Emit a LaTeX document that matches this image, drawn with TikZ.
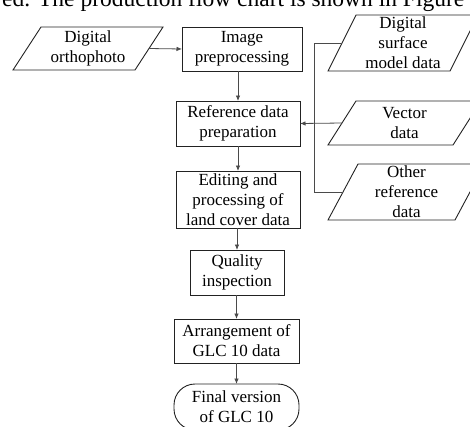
\documentclass[tikz,border=0pt]{standalone}
\usepackage{fontspec}
\setmainfont{Liberation Serif}
\usetikzlibrary{arrows.meta,calc}
\definecolor{boxc}{HTML}{222222}
\definecolor{linec}{HTML}{4A4A4A}
\newcommand\drawpara[2]{\draw[boxline] (#1.south west) -- ($(#1.north west)+(#2,0)$) -- (#1.north east) -- ($(#1.south east)+(-#2,0)$) -- cycle;}
\tikzset{
  txt/.style={inner sep=0pt, outer sep=0pt, align=center, font=\fontsize{17}{20}\selectfont},
  rbox/.style={txt, draw=boxc, line width=0.9pt},
  boxline/.style={draw=boxc, line width=0.9pt},
  plainline/.style={draw=linec, line width=0.8pt},
  conn/.style={plainline, -{Latex[length=5.5pt,width=4.5pt]}}
}
\begin{document}
\begin{tikzpicture}[x=1pt,y=-1pt]
\useasboundingbox (0,0) rectangle (470,426);
% caption line cut at the top
\node[anchor=base west, inner sep=0pt, font=\fontsize{23.5}{28}\selectfont] (cap) at (2,6.5) {ed. The production flow chart is shown in Figure};
% parallelogram data nodes (text boxes = bounding boxes)
\node[txt, minimum width=150pt, minimum height=43pt] (orth) at (88,48.5) {Digital\\orthophoto};
\node[txt, minimum width=150pt, minimum height=56pt] (dsm) at (403,43) {Digital\\surface\\model data};
\node[txt, minimum width=153pt, minimum height=44pt] (vec) at (404.5,123) {Vector\\data};
\node[txt, minimum width=157pt, minimum height=56pt] (oth) at (406.5,192) {Other\\reference\\data};
\drawpara{orth}{28}
\drawpara{dsm}{28}
\drawpara{vec}{28}
\drawpara{oth}{30}
% process boxes
\node[rbox, minimum width=120pt, minimum height=44pt] (img) at (242,49) {Image\\preprocessing};
\node[rbox, minimum width=124pt, minimum height=45pt] (ref) at (238,123.5) {Reference data\\preparation};
\node[rbox, minimum width=124pt, minimum height=57pt] (edit) at (238,199.5) {Editing and\\processing of\\land cover data};
\node[rbox, minimum width=94pt, minimum height=45pt] (qual) at (237,272.5) {Quality\\inspection};
\node[rbox, minimum width=125pt, minimum height=44pt] (arr) at (236.5,341) {Arrangement of\\GLC 10 data};
\node[rbox, rounded corners=21pt, minimum width=125pt, minimum height=46pt] (fin) at (236.5,407) {Final version\\of GLC 10};
% connectors
\coordinate (bus) at (314,0);
\draw[conn] ($(orth.east)+(-14,0)$) -- (img.west);
\draw[conn] (img.south -| ref.north) -- (ref.north);
\draw[conn] ($(vec.west)+(14,0)$) -- (ref.east);
\draw[plainline] ($(dsm.west)+(14,0)$) -| (bus |- oth.west) -- ($(oth.west)+(15,0)$);
\draw[conn] (ref.south) -- (edit.north);
\draw[conn] (edit.south -| qual.north) -- (qual.north);
\draw[conn] (qual.south -| arr.north) -- (arr.north);
\draw[conn] (arr.south) -- (fin.north);
\end{tikzpicture}
\end{document}
